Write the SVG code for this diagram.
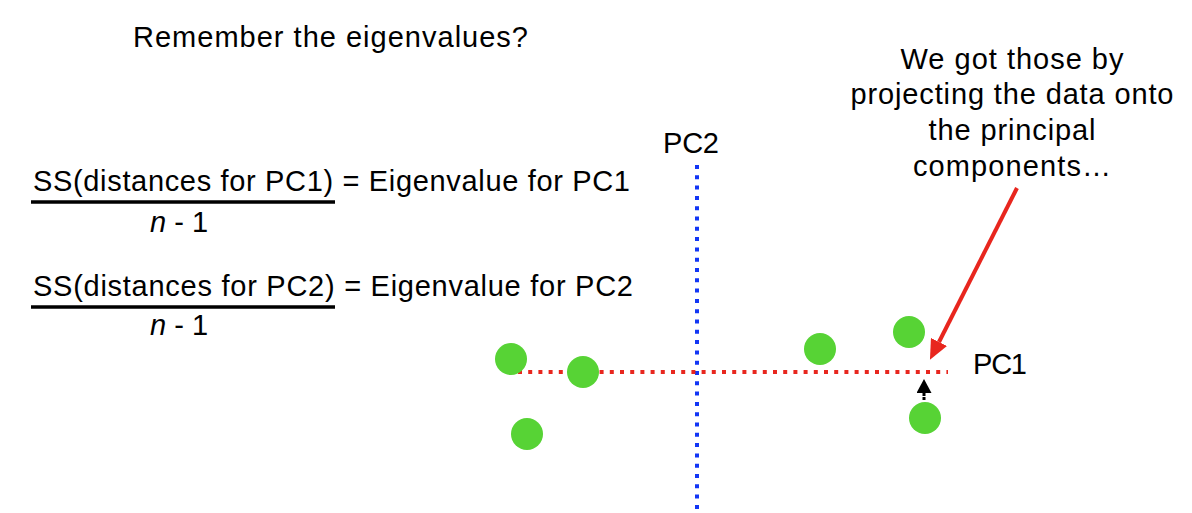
<svg xmlns="http://www.w3.org/2000/svg" width="1192" height="513" viewBox="0 0 1192 513">
  <style>
    text { font-family: "Liberation Sans", Arial, sans-serif; font-size: 29px; fill: #000; }
    .it { font-style: italic; }
    .bar { stroke: #000; stroke-width: 3.5; }
    .pt { fill: #57D335; }
    .pc1 { stroke: #E8261E; stroke-width: 4; stroke-dasharray: 4 6.2; fill: none; }
    .pc2 { stroke: #1236F5; stroke-width: 4; stroke-dasharray: 4 6.3; fill: none; }
  </style>
  <defs>
    <marker id="redHead" markerUnits="userSpaceOnUse" viewBox="0 0 20 18" refX="0" refY="9" markerWidth="20" markerHeight="18" orient="auto">
      <path d="M0,0 L20,9 L0,18 Z" fill="#E8261E"/>
    </marker>
    <marker id="blackHead" markerUnits="userSpaceOnUse" viewBox="0 0 14 15" refX="0" refY="7.5" markerWidth="14" markerHeight="15" orient="auto">
      <path d="M0,0 L14,7.5 L0,15 Z" fill="#000"/>
    </marker>
  </defs>

  <g id="title">
    <text x="133" y="47" textLength="395" lengthAdjust="spacing">Remember the eigenvalues?</text>
  </g>

  <g id="formula-pc1">
    <text x="33" y="191" textLength="597" lengthAdjust="spacing">SS(distances for PC1) = Eigenvalue for PC1</text>
    <line class="bar" x1="31" y1="202" x2="335" y2="202"/>
    <text x="150" y="232"><tspan class="it">n</tspan> - 1</text>
  </g>

  <g id="formula-pc2">
    <text x="33" y="296" textLength="600" lengthAdjust="spacing">SS(distances for PC2) = Eigenvalue for PC2</text>
    <line class="bar" x1="31" y1="307" x2="335" y2="307"/>
    <text x="150" y="335"><tspan class="it">n</tspan> - 1</text>
  </g>

  <g id="annotation" text-anchor="middle">
    <text x="1012" y="69" textLength="223" lengthAdjust="spacing">We got those by</text>
    <text x="1012" y="104" textLength="323" lengthAdjust="spacing">projecting the data onto</text>
    <text x="1012" y="140" textLength="167" lengthAdjust="spacing">the principal</text>
    <text x="1012" y="176" textLength="198" lengthAdjust="spacing">components…</text>
  </g>

  <g id="axis-pc2">
    <line class="pc2" x1="697" y1="165" x2="697" y2="509"/>
    <text x="663" y="153" textLength="56" lengthAdjust="spacing">PC2</text>
  </g>

  <g id="axis-pc1">
    <line class="pc1" x1="518" y1="372" x2="948" y2="372"/>
    <text x="973" y="374" textLength="54" lengthAdjust="spacing">PC1</text>
  </g>

  <g id="points">
    <circle id="p1" class="pt" cx="511" cy="359" r="16"/>
    <circle id="p2" class="pt" cx="583" cy="372" r="16"/>
    <circle id="p3" class="pt" cx="527" cy="434" r="16"/>
    <circle id="p4" class="pt" cx="820" cy="349" r="16"/>
    <circle id="p5" class="pt" cx="909" cy="332" r="16"/>
    <circle id="p6" class="pt" cx="925" cy="418" r="16"/>
  </g>

  <g id="connectors">
    <line x1="1017" y1="188" x2="939" y2="342" stroke="#E8261E" stroke-width="4" marker-end="url(#redHead)"/>
    <line x1="924" y1="400" x2="924" y2="393" stroke="#000" stroke-width="3" stroke-dasharray="3 1" marker-end="url(#blackHead)"/>
  </g>
</svg>
